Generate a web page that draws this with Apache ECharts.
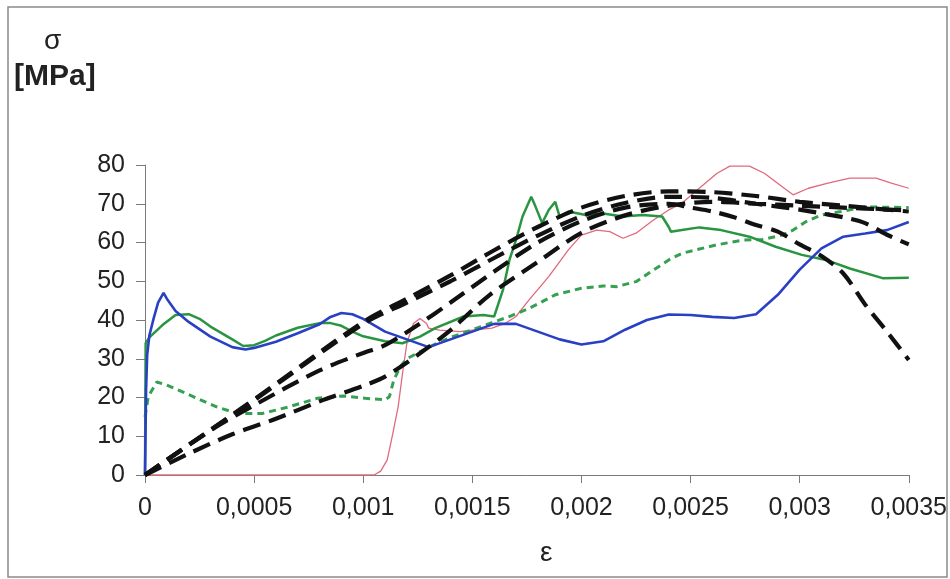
<!DOCTYPE html>
<html>
<head>
<meta charset="utf-8">
<script src="https://cdn.jsdelivr.net/npm/echarts@6/dist/echarts.min.js"></script>
<style>
html,body{margin:0;padding:0;background:#fff;}
#chart{width:950px;height:579px;}
</style>
</head>
<body>
<div id="chart"></div>
<script>
// strain (ε) / stress (σ, MPa) data
const xTickLabels = ['0','0,0005','0,001','0,0015','0,002','0,0025','0,003','0,0035'];
const yTickLabels = ['0','10','20','30','40','50','60','70','80'];

const blueSolid = [[0,0],[0.000005,22],[0.00001,31],[0.00002,36],[0.00004,40.5],[0.00006,44.5],[0.000085,47],[0.0001,45.5],[0.00014,42.3],[0.0002,39.5],[0.0003,35.7],[0.0004,33],[0.00046,32.4],[0.0005,32.8],[0.0006,34.4],[0.0007,36.6],[0.0008,38.9],[0.00085,40.8],[0.0009,41.8],[0.00095,41.5],[0.001,40.3],[0.0011,37],[0.0012,35],[0.0013,33],[0.0014,35],[0.0015,37],[0.0016,39],[0.0017,39],[0.0018,37],[0.0019,35],[0.002,33.7],[0.0021,34.5],[0.0022,37.5],[0.0023,40],[0.0024,41.4],[0.0025,41.3],[0.0026,40.8],[0.0027,40.5],[0.0028,41.5],[0.0029,46.5],[0.003,53],[0.0031,58.5],[0.0032,61.5],[0.0033,62.3],[0.0034,63.2],[0.0035,65.3]];

const greenSolid = [[0,0],[0.000003,34],[0.00002,35.5],[0.00008,38.7],[0.00014,41.3],[0.0002,41.5],[0.00025,40.3],[0.0003,38.3],[0.0004,35],[0.00045,33.3],[0.0005,33.5],[0.00055,34.6],[0.0006,36],[0.0007,38],[0.0008,39.2],[0.00085,39.2],[0.0009,38.5],[0.00095,37],[0.001,35.8],[0.0011,34.5],[0.00118,34],[0.00126,35.7],[0.00133,37.9],[0.00146,40.9],[0.00155,41.3],[0.0016,40.9],[0.00164,47.7],[0.00167,55.5],[0.0017,60.6],[0.00173,66.7],[0.00177,71.8],[0.00179,69.2],[0.00182,65],[0.00185,68.4],[0.00188,70.5],[0.0019,66.7],[0.00194,68],[0.00202,67.1],[0.0021,67.5],[0.00219,66.7],[0.00228,67.1],[0.00237,66.7],[0.0024,64],[0.00241,62.8],[0.00246,63.2],[0.00254,63.9],[0.00264,63.2],[0.00277,61.5],[0.00289,58.9],[0.00301,56.8],[0.00312,55.5],[0.00323,53.3],[0.00338,50.8],[0.0035,50.9]];

const greenDotted = [[0,15],[0.000015,20.2],[0.000054,24],[0.0001,23.2],[0.000206,20.6],[0.000328,17.6],[0.00042,15.9],[0.00054,15.9],[0.00066,17.6],[0.00079,19.8],[0.00091,20.4],[0.00101,19.8],[0.0011,19.4],[0.00112,20.2],[0.00114,24.5],[0.00117,28],[0.0012,30],[0.0013,33],[0.0014,35.5],[0.0015,37.5],[0.0016,39.5],[0.00167,40.9],[0.00176,43],[0.00188,46.5],[0.002,48.2],[0.0021,48.8],[0.00216,48.6],[0.00225,49.9],[0.00233,52.9],[0.0024,55.5],[0.00246,57.2],[0.00262,59.4],[0.00274,60.6],[0.00283,60.8],[0.00292,61.9],[0.00297,63.2],[0.00303,65.4],[0.0031,67.1],[0.00319,68],[0.0033,69.2],[0.00341,69.1],[0.0035,69]];

const pinkSolid = [[0,0],[0.00105,0],[0.00108,1],[0.00111,3.9],[0.001136,10.8],[0.00116,17.6],[0.00118,26.2],[0.0012,34],[0.00123,39.1],[0.00126,40.4],[0.00129,39.1],[0.0013,37.9],[0.00135,37.4],[0.00144,37],[0.0015,37.4],[0.00159,37.9],[0.00165,39.1],[0.0017,40.9],[0.00176,45.2],[0.00185,51.2],[0.00194,58.1],[0.002,61.9],[0.00207,63.2],[0.00213,62.8],[0.00219,61.1],[0.00225,62.4],[0.00233,65.8],[0.0024,68.4],[0.00246,70.1],[0.00254,74],[0.00262,77.8],[0.00268,79.7],[0.00277,79.7],[0.00284,77.8],[0.00292,74.4],[0.00297,72.3],[0.00304,74],[0.00313,75.3],[0.00323,76.6],[0.00335,76.6],[0.00342,75.3],[0.0035,74]];

const blackA = [[0,0],[0.0005,19.5],[0.001,39.5],[0.0012,45.5],[0.0014,51.5],[0.0016,58],[0.0018,64],[0.002,69],[0.0022,72],[0.0024,73.2],[0.0026,73],[0.0028,72],[0.003,70.5],[0.0032,69.5],[0.0034,68.5],[0.0035,68]];
const blackB = [[0,0],[0.0005,19.3],[0.001,39],[0.0012,44.5],[0.0014,50],[0.0016,56],[0.0018,61.8],[0.002,66.8],[0.0022,70.2],[0.0024,71.8],[0.0026,71.5],[0.0028,70],[0.003,68.5],[0.0031,67.5],[0.0032,66.5],[0.0033,65],[0.0034,62],[0.0035,59.5]];
const blackC = [[0,0],[0.0003,11.5],[0.0005,18],[0.0008,27],[0.001,31.5],[0.0011,33.5],[0.00125,38.7],[0.0014,44.5],[0.0016,52.5],[0.0018,60],[0.002,65.5],[0.0022,69],[0.0024,70],[0.0025,69],[0.0026,68],[0.0027,66.5],[0.0028,64.5],[0.0029,62.8],[0.003,59.5],[0.0031,56.5],[0.0032,52],[0.0033,44],[0.0034,37],[0.0035,29.7]];
const blackD = [[0,0],[0.0002,5.5],[0.0004,10.5],[0.0006,14.5],[0.0008,19],[0.001,23],[0.0011,25.4],[0.00126,31.4],[0.0014,37.4],[0.00158,46.5],[0.0018,55],[0.002,62.5],[0.0022,67],[0.0024,69.5],[0.0026,70.5],[0.0028,70],[0.003,69.5],[0.0032,69],[0.0034,68.5],[0.0035,68.3]];

const chart = echarts.init(document.getElementById('chart'), null, {renderer:'canvas'});
const FONT = '"Liberation Sans", Arial, sans-serif';
const axisColor = '#7a7a7a';

function lineSeries(data, color, width, type, z, smooth){
  return {type:'line', data:data, showSymbol:false, symbol:'none', smooth:smooth || false, z:z,
    xAxisIndex:0, yAxisIndex:0, animation:false,
    lineStyle:{color:color, width:width, type:type, cap:'butt'}};
}

const option = {
  animation:false,
  backgroundColor:'#ffffff',
  grid:{left:145, right:40, top:165, bottom:104, containLabel:false},
  xAxis:[{
    type:'value', min:0, max:0.0035, interval:0.0005,
    axisLine:{show:true, lineStyle:{color:axisColor, width:1}},
    axisTick:{show:true, inside:false, length:8, lineStyle:{color:axisColor}},
    splitLine:{show:false},
    axisLabel:{show:true, margin:21, fontSize:25, fontFamily:FONT, color:'#222',
      formatter:function(v){return xTickLabels[Math.round(v/0.0005)];}}
  },{
    type:'value', min:0, max:0.0035, interval:0.0005,
    axisLine:{show:false}, axisLabel:{show:false}, splitLine:{show:false},
    axisTick:{show:true, inside:true, length:7, lineStyle:{color:axisColor}}
  }],
  yAxis:[{
    type:'value', min:0, max:80, interval:10,
    axisLine:{show:true, lineStyle:{color:axisColor, width:1}},
    axisTick:{show:true, inside:false, length:9, lineStyle:{color:axisColor}},
    splitLine:{show:false},
    axisLabel:{show:true, margin:20, fontSize:25, fontFamily:FONT, color:'#222',
      formatter:function(v){return yTickLabels[Math.round(v/10)];}}
  },{
    type:'value', min:0, max:80, interval:10,
    axisLine:{show:false}, axisLabel:{show:false}, splitLine:{show:false},
    axisTick:{show:true, inside:true, length:7, lineStyle:{color:axisColor}}
  }],
  graphic:[
    {type:'rect', shape:{x:8, y:7, width:939, height:570}, style:{fill:'none', stroke:'#8a8a8a', lineWidth:1.5}, z:0, silent:true},
    {type:'text', left:44, top:27, style:{text:'σ', font:'28px ' + FONT, fill:'#222'}},
    {type:'text', left:14, top:62, style:{text:'[MPa]', font:'bold 30px ' + FONT, fill:'#222'}},
    {type:'text', left:540, top:539, style:{text:'ε', font:'28px ' + FONT, fill:'#222'}}
  ],
  series:[
    lineSeries(pinkSolid, '#e06a7c', 1.3, 'solid', 2, false),
    lineSeries(greenDotted, '#35a052', 3, [7,5], 3, false),
    lineSeries(greenSolid, '#2a9440', 2.5, 'solid', 4, false),
    lineSeries(blueSolid, '#2a40c4', 2.6, 'solid', 5, false),
    lineSeries(blackA, '#111111', 4.2, [18,9], 6, 0.3),
    lineSeries(blackB, '#111111', 4.2, [18,9], 6, 0.3),
    lineSeries(blackC, '#111111', 4.2, [18,9], 6, 0.3),
    lineSeries(blackD, '#111111', 4.2, [18,9], 6, 0.3)
  ]
};
chart.setOption(option);
</script>
</body>
</html>
